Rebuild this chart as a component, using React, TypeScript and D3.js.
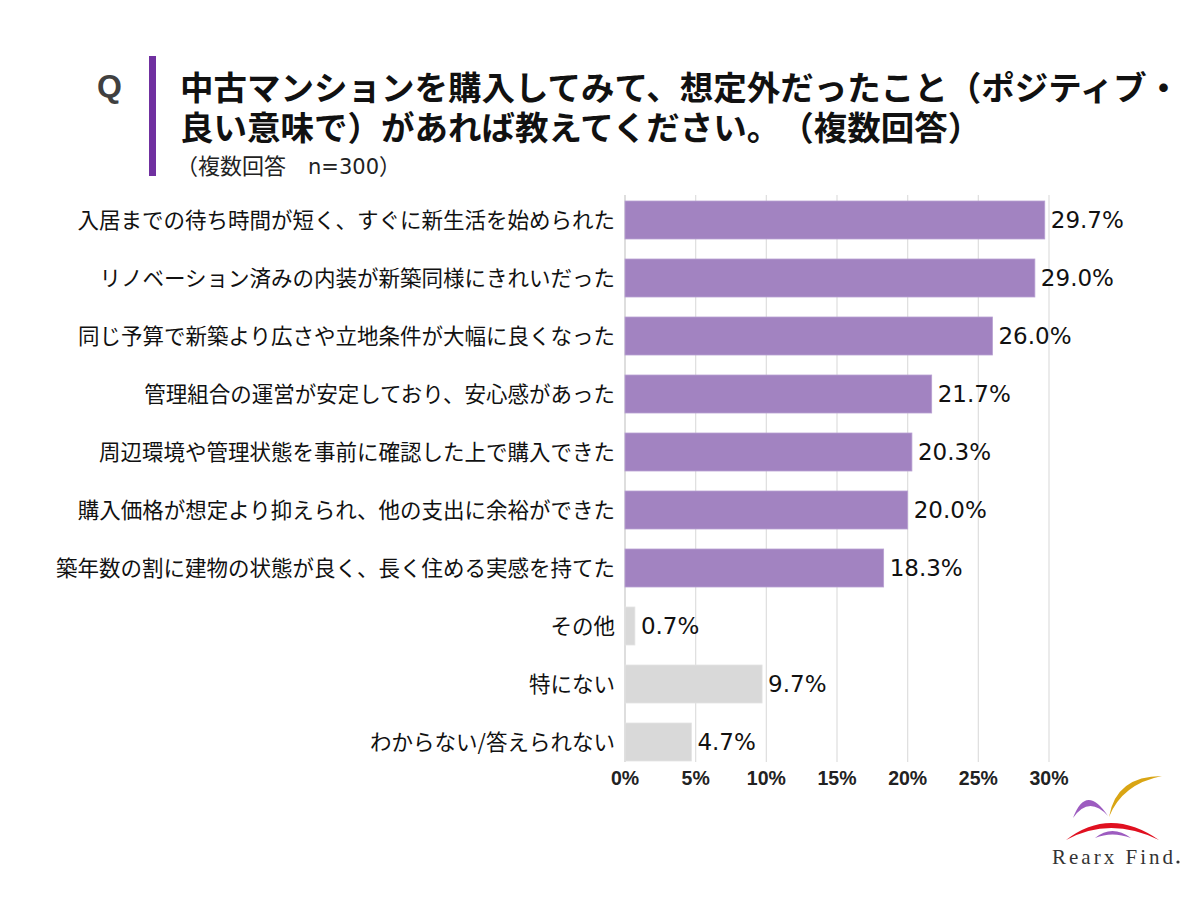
import React from "react";
import * as d3 from "d3";

const categories = [
  "入居までの待ち時間が短く、すぐに新生活を始められた",
  "リノベーション済みの内装が新築同様にきれいだった",
  "同じ予算で新築より広さや立地条件が大幅に良くなった",
  "管理組合の運営が安定しており、安心感があった",
  "周辺環境や管理状態を事前に確認した上で購入できた",
  "購入価格が想定より抑えられ、他の支出に余裕ができた",
  "築年数の割に建物の状態が良く、長く住める実感を持てた",
  "その他",
  "特にない",
  "わからない/答えられない",
];
const values = [29.7, 29.0, 26.0, 21.7, 20.3, 20.0, 18.3, 0.7, 9.7, 4.7];
// the last three answers are drawn in gray
const neutral = ["その他", "特にない", "わからない/答えられない"];
const ticks = [0, 5, 10, 15, 20, 25, 30];

const titleLines = [
  "中古マンションを購入してみて、想定外だったこと（ポジティブ・",
  "良い意味で）があれば教えてください。（複数回答）",
];
const sampleSize = 300;

const W = 1200;
const H = 900;
const font = "'Noto Sans CJK JP', 'Noto Sans', sans-serif";
const latin = "'DejaVu Sans', Verdana, sans-serif";

const App = () => {
  const x = d3.scaleLinear().domain([0, 30]).range([625, 1049]);
  const y = d3
    .scaleBand<string>()
    .domain(categories)
    .range([191, 771])
    .paddingInner(0.345)
    .paddingOuter(0.1725);

  return (
    <svg
      width={W}
      height={H}
      style={{
        position: "absolute",
        left: 0,
        top: 0,
        background: "#fff",
        textSpacingTrim: "space-all",
      } as React.CSSProperties}
      fontFamily={font}
    >
      <rect width={W} height={H} fill="#fff" />

      {/* header */}
      <text
        x={97}
        y={97}
        fontSize={32}
        fontWeight="bold"
        fill="#404040"
        fontFamily="'Liberation Sans', Arial, sans-serif"
      >
        Q
      </text>
      <rect x={149} y={56} width={7} height={120} fill="#7030A0" />
      {titleLines.map((t, i) => (
        <text key={i} x={180} y={100 + i * 40} fontSize={33.5} fontWeight="bold" fill="#111">
          {t}
        </text>
      ))}
      <text x={176} y={174} fontSize={22} fill="#222" xmlSpace="preserve">
        {"（複数回答\u3000"}
        <tspan fontFamily={latin} fontSize={21}>
          {`n=${sampleSize}`}
        </tspan>
        {"）"}
      </text>

      {/* grid */}
      {ticks.map((t) => (
        <g key={t}>
          <line
            x1={x(t)}
            x2={x(t)}
            y1={195}
            y2={762}
            stroke={t === 0 ? "#c8c8c8" : "#dedede"}
            strokeWidth={1.2}
          />
          <text
            x={x(t)}
            y={785}
            textAnchor="middle"
            fontSize={19.5}
            fontWeight="bold"
            fill="#222"
            fontFamily="'Liberation Sans', Arial, sans-serif"
          >
            {t}%
          </text>
        </g>
      ))}

      {/* bars */}
      {categories.map((c, i) => {
        const y0 = y(c)!;
        const cy = y0 + y.bandwidth() / 2;
        const gray = neutral.includes(c);
        return (
          <g key={c}>
            <rect
              x={x(0)}
              y={y0}
              width={x(values[i]) - x(0)}
              height={y.bandwidth()}
              fill={gray ? "#D9D9D9" : "#A283C1"}
              stroke={gray ? "#e4e4e4" : "#b8a0d2"}
              strokeWidth={0.8}
            />
            <text
              x={615}
              y={cy}
              dy="0.36em"
              textAnchor="end"
              fontSize={21.5}
              fill="#111"
            >
              {c}
            </text>
            <text
              x={x(values[i]) + 6}
              y={cy}
              dy="0.36em"
              fontSize={23}
              fill="#111"
              fontFamily={latin}
            >
              {values[i].toFixed(1)}%
            </text>
          </g>
        );
      })}

      {/* logo */}
      <g>
        <path
          d="M1073,818 Q1086,783 1108,816 Q1089,795 1073,818 Z"
          fill="#9D5CC0"
        />
        <path
          d="M1109,817 Q1116,776 1162,776 Q1122,784 1109,817 Z"
          fill="#D9A514"
        />
        <path
          d="M1066,840 Q1110,806 1159,840 Q1110,816 1066,840 Z"
          fill="#E01020"
        />
        <path
          d="M1095,838 Q1112,824 1131,838 Q1112,831 1095,838 Z"
          fill="#9D5CC0"
        />
        <text
          x={1052}
          y={864}
          fontSize={21}
          fontFamily="'Liberation Serif', 'DejaVu Serif', serif"
          fill="#333"
          textLength={121}
          lengthAdjust="spacing"
        >
          Rearx Find
        </text>
        <circle cx={1178} cy={862} r={1.6} fill="#333" />
      </g>
    </svg>
  );
};

export default App;
